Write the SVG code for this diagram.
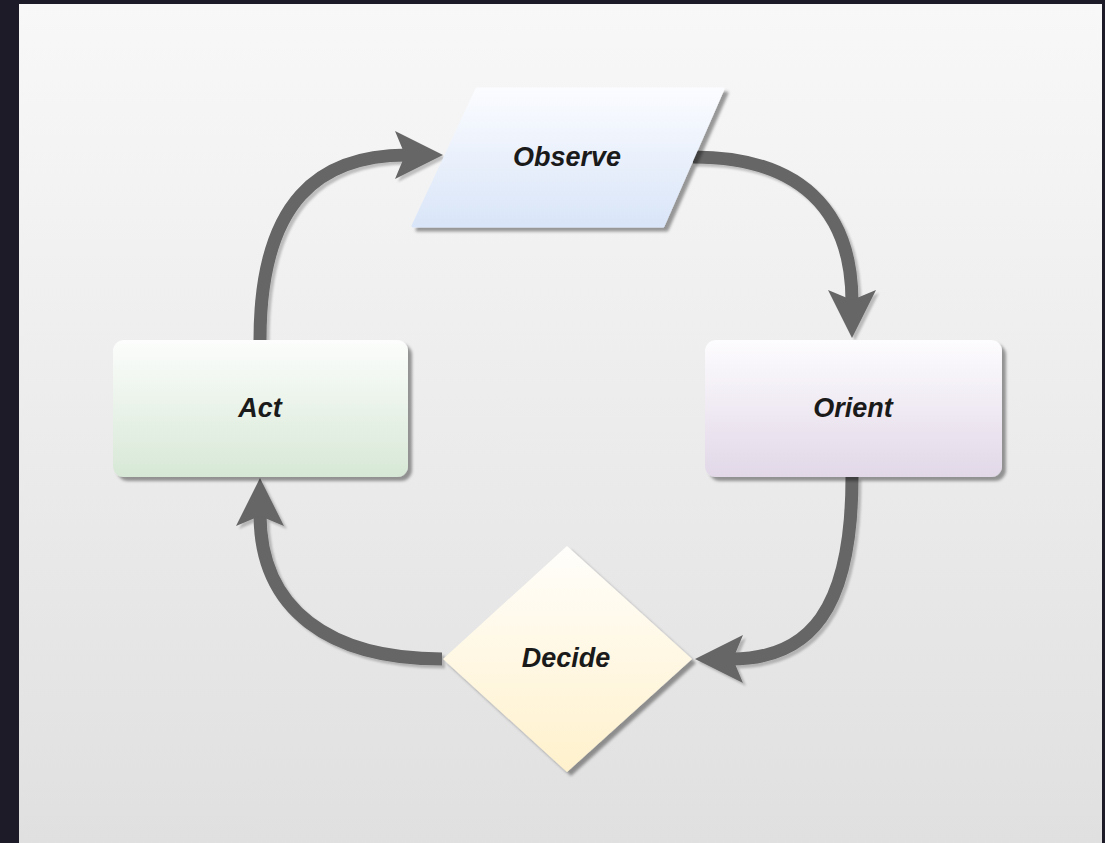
<svg xmlns="http://www.w3.org/2000/svg" width="1105" height="843" viewBox="0 0 1105 843">
<defs>
<linearGradient id="bg" x1="0" y1="0" x2="0" y2="1"><stop offset="0" stop-color="#f8f8f8"/><stop offset="1" stop-color="#e0e0e0"/></linearGradient>
<linearGradient id="gBlue" x1="0" y1="0" x2="0" y2="1"><stop offset="0" stop-color="#fbfcff"/><stop offset="1" stop-color="#d9e5f8"/></linearGradient>
<linearGradient id="gPurple" x1="0" y1="0" x2="0" y2="1"><stop offset="0" stop-color="#fdfcfe"/><stop offset="1" stop-color="#e2d8e8"/></linearGradient>
<linearGradient id="gGreen" x1="0" y1="0" x2="0" y2="1"><stop offset="0" stop-color="#fcfdfc"/><stop offset="1" stop-color="#d7e8d6"/></linearGradient>
<linearGradient id="gYellow" x1="0" y1="0" x2="0" y2="1"><stop offset="0" stop-color="#fffefb"/><stop offset="1" stop-color="#fff1cc"/></linearGradient>
<filter id="shadow" x="-10%" y="-10%" width="130%" height="130%"><feDropShadow dx="4" dy="4" stdDeviation="1.5" flood-color="#000" flood-opacity="0.38"/></filter>
<filter id="ashadow" x="-20%" y="-20%" width="140%" height="140%"><feDropShadow dx="3" dy="3" stdDeviation="1.2" flood-color="#000" flood-opacity="0.22"/></filter>
<marker id="head" markerUnits="userSpaceOnUse" markerWidth="50" markerHeight="50" viewBox="0 0 50 50" refX="12" refY="24" orient="auto">
<path d="M0,0 L48,24 L0,48 L10,24 Z" fill="#666666"/>
</marker>
<style>
.edge{fill:none;stroke:#666666;stroke-width:13;marker-end:url(#head)}
.lbl{font-family:"Liberation Sans",Arial,sans-serif;font-size:27px;font-weight:bold;font-style:italic;fill:#1a1a1a;text-anchor:middle}
.node{filter:url(#shadow)}
</style>
</defs>
<rect x="0" y="0" width="1105" height="843" fill="#1c1b27"/>
<rect x="19" y="4" width="1083" height="839" fill="url(#bg)"/>
<g id="connectors" filter="url(#ashadow)">
<path class="edge" d="M260,340 C260,200 320,155 407,155"/>
<path class="edge" d="M693,157 C800,157 852,210 852,302"/>
<path class="edge" d="M852,477 C852,610 810,659 731,659"/>
<path class="edge" d="M442,659 C330,659 260,610 260,514"/>
</g>
<g id="observe">
<polygon class="node" points="477,89 723,89 663,226 413,226" fill="url(#gBlue)" stroke="url(#gBlue)" stroke-width="3" stroke-linejoin="round"/>
<text class="lbl" x="567" y="166">Observe</text>
</g>
<g id="orient">
<rect class="node" x="705" y="340" width="297" height="137" rx="11" fill="url(#gPurple)"/>
<text class="lbl" x="853" y="417">Orient</text>
</g>
<g id="decide">
<polygon class="node" points="567,546 692,659 567,772 443,659" fill="url(#gYellow)"/>
<text class="lbl" x="566" y="667">Decide</text>
</g>
<g id="act">
<rect class="node" x="113" y="340" width="295" height="137" rx="11" fill="url(#gGreen)"/>
<text class="lbl" x="260" y="417">Act</text>
</g>
</svg>
